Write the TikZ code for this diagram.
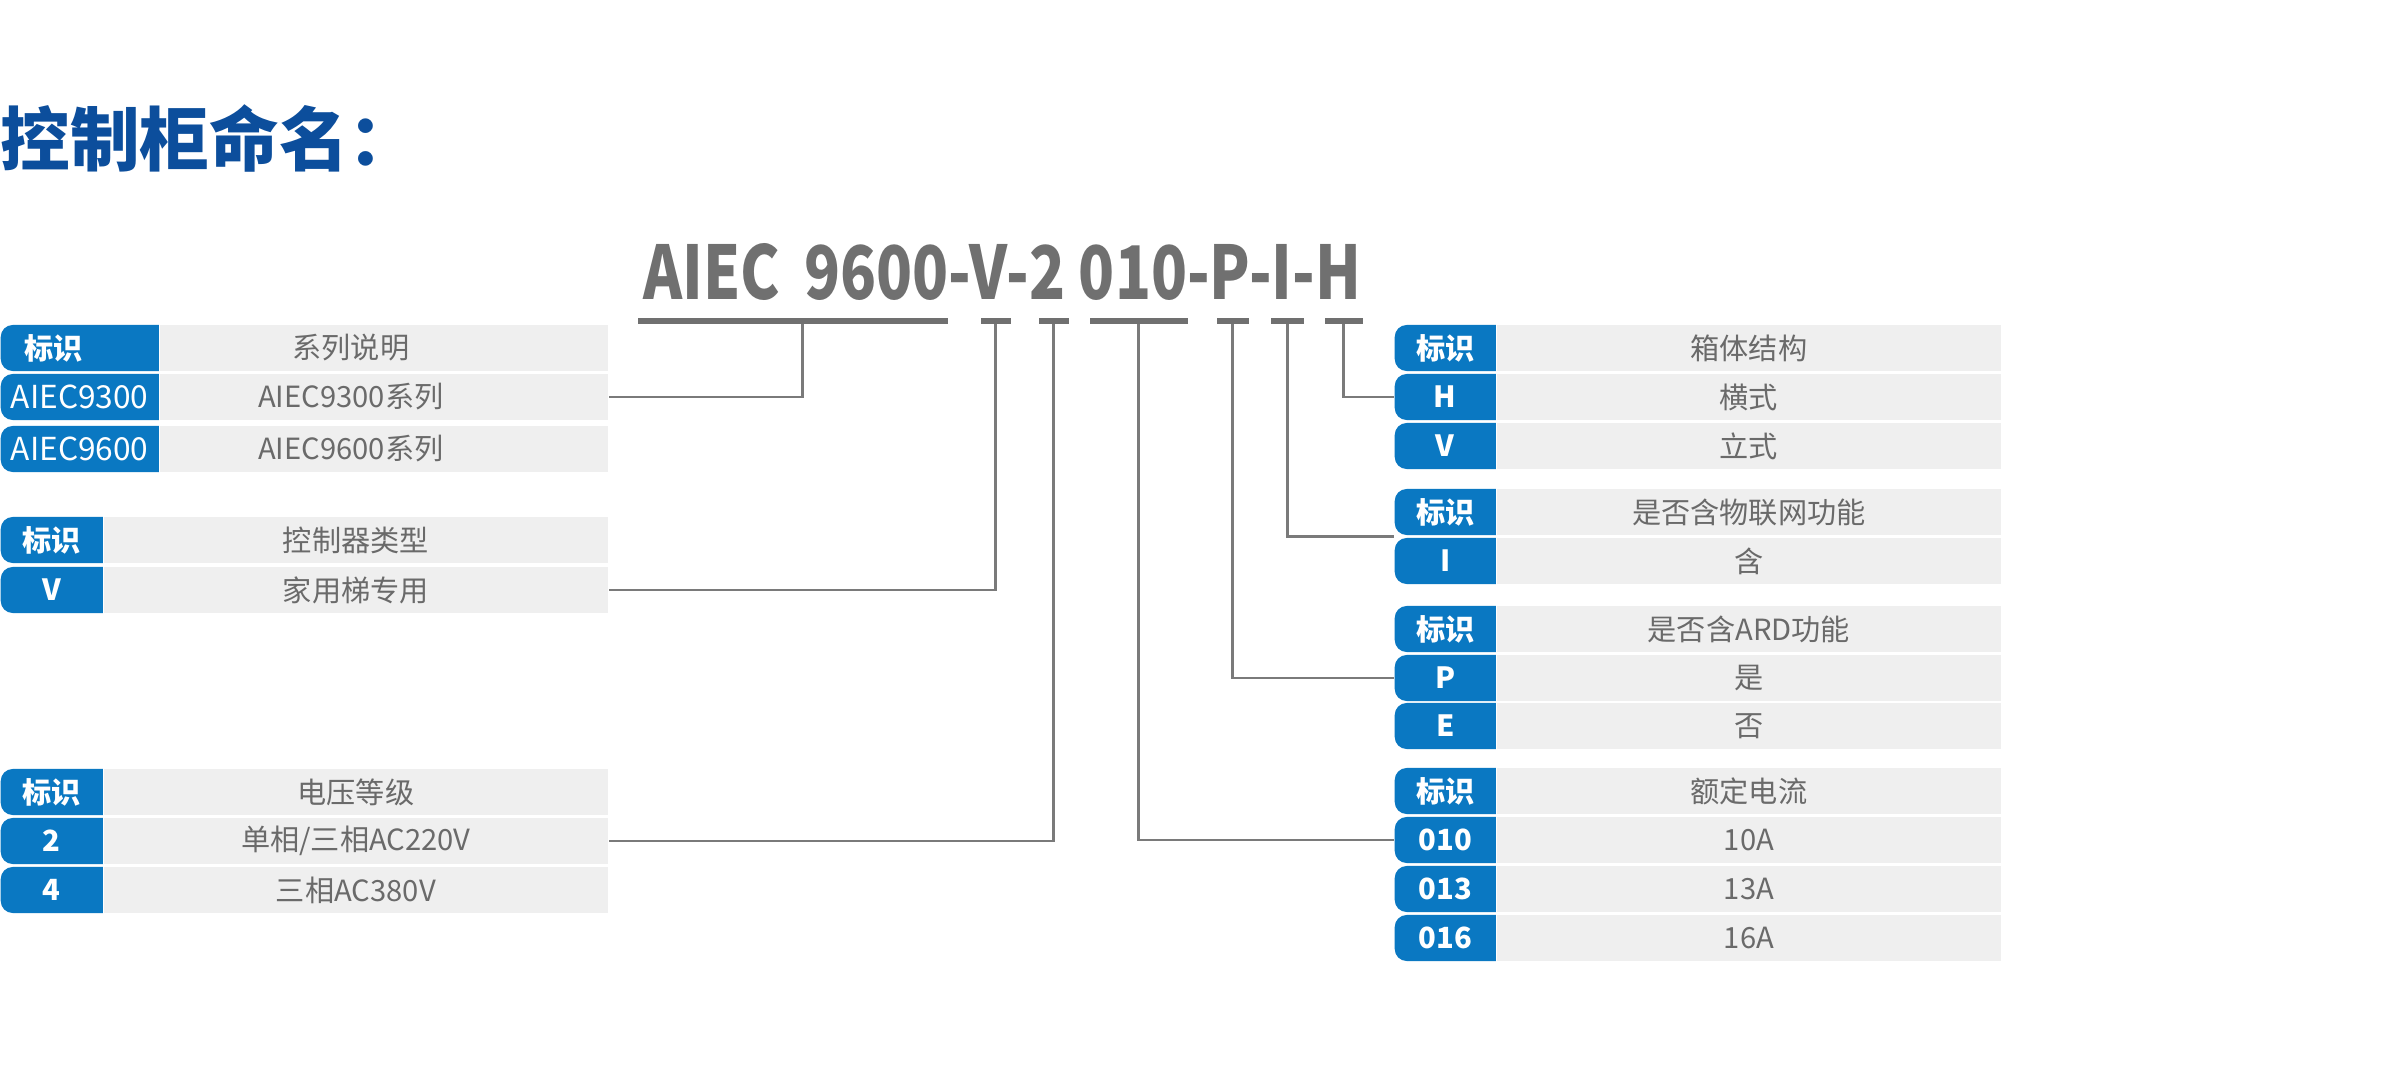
\documentclass[tikz,border=0pt]{standalone}
\usepackage{fontspec}
\setmainfont{Noto Sans CJK SC}
\usetikzlibrary{calc}
\definecolor{cellblue}{HTML}{0A78C2}
\definecolor{cellgray}{HTML}{EFEFEF}
\definecolor{txtgray}{HTML}{6A6A6A}
\definecolor{titleblue}{HTML}{0C4E9C}
\definecolor{linegray}{HTML}{7A7A7A}
\definecolor{codegray}{HTML}{707070}
\begin{document}
\begin{tikzpicture}[x=0.01cm,y=-0.01cm,
 graycell/.style={rectangle, fill=cellgray, inner sep=0pt, minimum height=0.46cm, anchor=west, text=txtgray, font=\fontsize{8.3}{10}\selectfont},
 bluecell/.style={rectangle, inner sep=0pt, minimum height=0.46cm, anchor=west, text=white, font=\bfseries\fontsize{8.3}{10}\selectfont,
   path picture={\fill[cellblue, rounded corners=0.12cm] (path picture bounding box.south west) rectangle ([xshift=0.3cm]path picture bounding box.north east);}},
 serieslbl/.style={font=\mdseries\fontsize{9}{10}\selectfont},
 lblue/.style={bluecell, minimum width=1.02cm},
 lgray/.style={graycell, minimum width=5.04cm},
 rblue/.style={bluecell, minimum width=1.01cm},
 rgray/.style={graycell, minimum width=5.04cm},
 uline/.style={rectangle, fill=codegray, inner sep=0pt, minimum height=0.055cm, anchor=west},
 conn/.style={draw=linegray, line width=0.8pt}
]
\useasboundingbox[fill=white] (0,0) rectangle (2400,1070);

% title
\node[anchor=west, inner sep=0pt, text=titleblue, font=\bfseries\fontsize{19.8}{22}\selectfont] (title) at (0,138) {控制柜命名：};

% part number
\node[anchor=south west, inner sep=0pt, text=codegray] (pn) at (643,301) {\resizebox{7.17cm}{0.56cm}{\bfseries AIEC\hspace{0.17em} 9600-V-2 010-P-I-H}};

% underlines
\node[uline, minimum width=3.10cm] (u1) at (637,321) {};
\node[uline, minimum width=0.30cm] (u2) at (980,321) {};
\node[uline, minimum width=0.30cm] (u3) at (1038,321) {};
\node[uline, minimum width=0.98cm] (u4) at (1089,321) {};
\node[uline, minimum width=0.32cm] (u5) at (1216,321) {};
\node[uline, minimum width=0.33cm] (u6) at (1270,321) {};
\node[uline, minimum width=0.38cm] (u7) at (1324,321) {};

% left table A (series)
\node[graycell, minimum width=4.48cm] (lA0g) at (159,348) {系列说明\hspace*{0.66cm}};
\node[bluecell, minimum width=1.58cm] (lA0b) at (0,348) {标识\hspace*{0.52cm}};
\node[graycell, minimum width=4.48cm] (lA1g) at (159,397) {AIEC9300系列\hspace*{0.66cm}};
\node[bluecell, serieslbl, minimum width=1.58cm] (lA1b) at (0,397) {AIEC9300};
\node[graycell, minimum width=4.48cm] (lA2g) at (159,449) {AIEC9600系列\hspace*{0.66cm}};
\node[bluecell, serieslbl, minimum width=1.58cm] (lA2b) at (0,449) {AIEC9600};

% left table B (controller type)
\node[lgray] (lB0g) at (103,540) {控制器类型};
\node[lblue] (lB0b) at (0,540) {标识};
\node[lgray] (lB1g) at (103,590) {家用梯专用};
\node[lblue] (lB1b) at (0,590) {V};

% left table C (voltage)
\node[lgray] (lC0g) at (103,792) {电压等级};
\node[lblue] (lC0b) at (0,792) {标识};
\node[lgray] (lC1g) at (103,841) {单相/三相AC220V};
\node[lblue] (lC1b) at (0,841) {2};
\node[lgray] (lC2g) at (103,890) {三相AC380V};
\node[lblue] (lC2b) at (0,890) {4};

% right table A (cabinet structure)
\node[rgray] (rA0g) at (1496,348) {箱体结构};
\node[rblue] (rA0b) at (1394,348) {标识};
\node[rgray] (rA1g) at (1496,397) {横式};
\node[rblue] (rA1b) at (1394,397) {H};
\node[rgray] (rA2g) at (1496,446) {立式};
\node[rblue] (rA2b) at (1394,446) {V};

% right table B (IoT)
\node[rgray] (rB0g) at (1496,512) {是否含物联网功能};
\node[rblue] (rB0b) at (1394,512) {标识};
\node[rgray] (rB1g) at (1496,561) {含};
\node[rblue] (rB1b) at (1394,561) {I};

% right table C (ARD)
\node[rgray] (rC0g) at (1496,629) {是否含ARD功能};
\node[rblue] (rC0b) at (1394,629) {标识};
\node[rgray] (rC1g) at (1496,678) {是};
\node[rblue] (rC1b) at (1394,678) {P};
\node[rgray] (rC2g) at (1496,726) {否};
\node[rblue] (rC2b) at (1394,726) {E};

% right table D (rated current)
\node[rgray] (rD0g) at (1496,791) {额定电流};
\node[rblue] (rD0b) at (1394,791) {标识};
\node[rgray] (rD1g) at (1496,840) {10A};
\node[rblue] (rD1b) at (1394,840) {010};
\node[rgray] (rD2g) at (1496,889) {13A};
\node[rblue] (rD2b) at (1394,889) {013};
\node[rgray] (rD3g) at (1496,938) {16A};
\node[rblue] (rD3b) at (1394,938) {016};

% connectors
\draw[conn] ([xshift=0.1cm]u1.south) |- (lA1g.east);
\draw[conn] (u2.south) |- (lB1g.east);
\draw[conn] (u3.south) |- (lC1g.east);
\draw[conn] (u4.south) |- (rD1b.west);
\draw[conn] (u5.south) |- (rC1b.west);
\draw[conn] (u6.south) |- ($(rB0b.south west)!0.5!(rB1b.north west)$);
\draw[conn] (u7.south) |- (rA1b.west);
\end{tikzpicture}
\end{document}
